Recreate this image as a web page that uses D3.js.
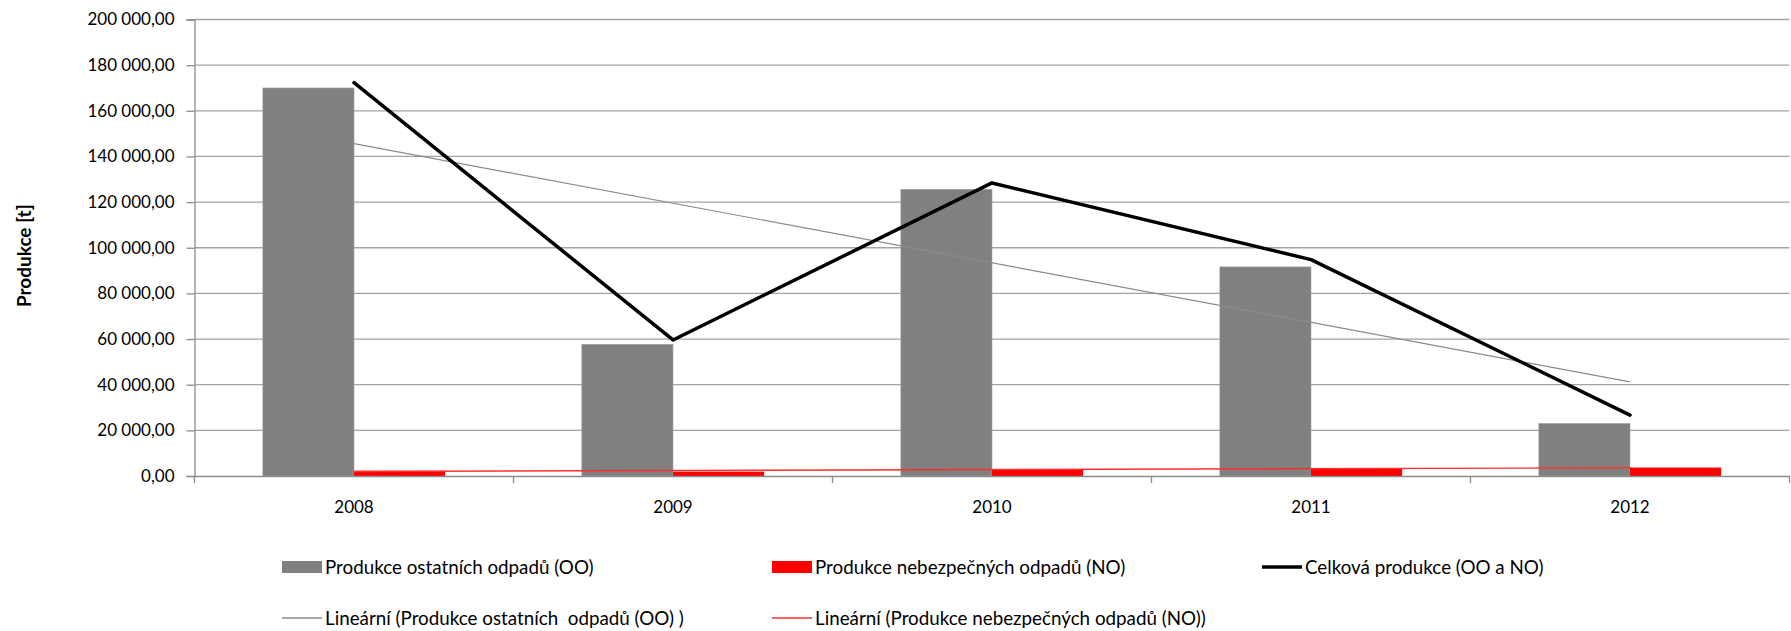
<!DOCTYPE html>
<html>
<head>
<meta charset="utf-8">
<script src="https://cdn.jsdelivr.net/npm/d3@7"></script>
<style>
  body { margin: 0; background: #fff; }
  text { font-family: Lato, "Open Sans", sans-serif; fill: #000; }
  .legend-text { font-size: 18.8px; }
  .axis-title { font-size: 19px; font-weight: bold; }
</style>
</head>
<body>
<svg class="chart"></svg>
<script>
// values
var years = ["2008", "2009", "2010", "2011", "2012"]
var ostatni = [170000, 57700, 125600, 91600, 23000]        // Produkce ostatních odpadů (OO)
var nebezpecne = [2300, 1900, 2800, 3200, 3700]            // Produkce nebezpečných odpadů (NO)
var celkova = [172300, 59600, 128400, 94800, 26700]        // Celková produkce (OO a NO)
var trendOstatni = [145600, 41200]                         // linear trend, first / last year
var trendNebezpecne = [2000, 3600]
var yTicks = [0, 20000, 40000, 60000, 80000, 100000, 120000, 140000, 160000, 180000, 200000]

var width = 1791, height = 631
var plot = { left: 194.5, right: 1789.5, top: 19.5, bottom: 476 }

var svg = d3.select(".chart")
    .attr("width", width)
    .attr("height", height)

var x = d3.scaleBand()
    .domain(years)
    .range([plot.left, plot.right])
    .padding(0)

var xSeries = d3.scaleBand()
    .domain(["OO", "NO"])
    .range([0, x.bandwidth()])
    .paddingInner(0)
    .paddingOuter(0.75)

var y = d3.scaleLinear()
    .domain([0, 200000])
    .range([plot.bottom, plot.top])

var cz = d3.formatLocale({ decimal: ",", thousands: " ", grouping: [3], currency: ["", ""] })
var fmt = cz.format(",.2f")

var mid = function (yr) { return x(yr) + x.bandwidth() / 2 }

// gridlines
svg.append("g")
    .selectAll("line")
    .data(yTicks.slice(1))
    .join("line")
    .attr("x1", plot.left)
    .attr("x2", plot.right)
    .attr("y1", d => y(d))
    .attr("y2", d => y(d))
    .style("stroke", "#a3a3a3")
    .style("stroke-width", 1.3)

// y axis
var yAxis = svg.append("g")
    .attr("transform", "translate(" + plot.left + ",0)")
    .call(d3.axisLeft(y).tickValues(yTicks).tickFormat(fmt).tickSize(8).tickPadding(12))
yAxis.select(".domain").style("stroke", "#8c8c8c").style("stroke-width", 1.3)
yAxis.selectAll(".tick line").style("stroke", "#8c8c8c").style("stroke-width", 1.3)
yAxis.selectAll(".tick text")
    .style("font-family", "Lato, sans-serif")
    .style("font-size", "17px")
    .attr("fill", "#000")

// bars
var bars = svg.append("g")
bars.selectAll(".oo")
    .data(years)
    .join("rect")
    .attr("x", d => x(d) + xSeries("OO"))
    .attr("width", xSeries.bandwidth())
    .attr("y", (d, i) => y(ostatni[i]))
    .attr("height", (d, i) => y(0) - y(ostatni[i]))
    .style("fill", "#808080")
    .style("stroke", "#a0a0a0")
    .style("stroke-width", 0.6)

bars.selectAll(".no")
    .data(years)
    .join("rect")
    .attr("x", d => x(d) + xSeries("NO"))
    .attr("width", xSeries.bandwidth())
    .attr("y", (d, i) => y(nebezpecne[i]))
    .attr("height", (d, i) => y(0) - y(nebezpecne[i]))
    .style("fill", "#ff0000")

// x axis
var xAxis = svg.append("g")
    .attr("transform", "translate(0," + plot.bottom + ")")
    .call(d3.axisBottom(x).tickSize(0).tickPadding(25))
xAxis.select(".domain").style("stroke", "#8c8c8c").style("stroke-width", 1.3)
xAxis.selectAll(".tick text")
    .style("font-family", "Lato, sans-serif")
    .style("font-size", "17px")
    .attr("fill", "#000")
xAxis.selectAll(".sep")
    .data(years.concat(["end"]))
    .join("line")
    .attr("x1", (d, i) => i < years.length ? x(d) : plot.right)
    .attr("x2", (d, i) => i < years.length ? x(d) : plot.right)
    .attr("y1", 0)
    .attr("y2", 7)
    .style("stroke", "#8c8c8c")
    .style("stroke-width", 1.3)

// trend lines
var ends = [years[0], years[years.length - 1]]
var trend = d3.line().x((d, i) => mid(ends[i])).y(d => y(d))
svg.append("path")
    .datum(trendOstatni)
    .attr("d", trend)
    .style("fill", "none")
    .style("stroke", "#8a8a8a")
    .style("stroke-width", 1.2)
svg.append("path")
    .datum(trendNebezpecne)
    .attr("d", trend)
    .style("fill", "none")
    .style("stroke", "#ff3030")
    .style("stroke-width", 1.4)

// total line
var total = d3.line().x((d, i) => mid(years[i])).y(d => y(d))
svg.append("path")
    .datum(celkova)
    .attr("d", total)
    .style("fill", "none")
    .style("stroke", "#000")
    .style("stroke-width", 3.5)
    .style("stroke-linejoin", "round")
    .style("stroke-linecap", "round")

// y title
svg.append("text")
    .attr("class", "axis-title")
    .attr("transform", "translate(31," + ((plot.top + plot.bottom) / 2 + 8) + ") rotate(-90)")
    .style("text-anchor", "middle")
    .text("Produkce [t]")

// legend
var legendItems = [
    { label: "Produkce ostatních odpadů (OO)", type: "rect", color: "#808080", x: 282, y: 567 },
    { label: "Produkce nebezpečných odpadů (NO)", type: "rect", color: "#ff0000", x: 772, y: 567 },
    { label: "Celková produkce (OO a NO)", type: "line", color: "#000", w: 3.5, x: 1262, y: 567 },
    { label: "Lineární (Produkce ostatních  odpadů (OO) )", type: "line", color: "#8a8a8a", w: 1.3, x: 282, y: 618 },
    { label: "Lineární (Produkce nebezpečných odpadů (NO))", type: "line", color: "#ff3030", w: 1.4, x: 772, y: 618 }
]

var legend = svg.append("g").classed("legend", true)
legendItems.forEach(function (d) {
    var g = legend.append("g").attr("transform", "translate(" + d.x + "," + d.y + ")")
    if (d.type == "rect") {
        g.append("rect")
            .attr("x", 0).attr("y", -6)
            .attr("width", 40).attr("height", 12)
            .style("fill", d.color)
    } else {
        g.append("line")
            .attr("x1", 0).attr("x2", 40)
            .attr("y1", 0).attr("y2", 0)
            .style("stroke", d.color)
            .style("stroke-width", d.w)
    }
    g.append("text")
        .attr("class", "legend-text")
        .attr("x", 43)
        .attr("y", 6.5)
        .style("white-space", "pre")
        .text(d.label)
})
</script>
</body>
</html>
